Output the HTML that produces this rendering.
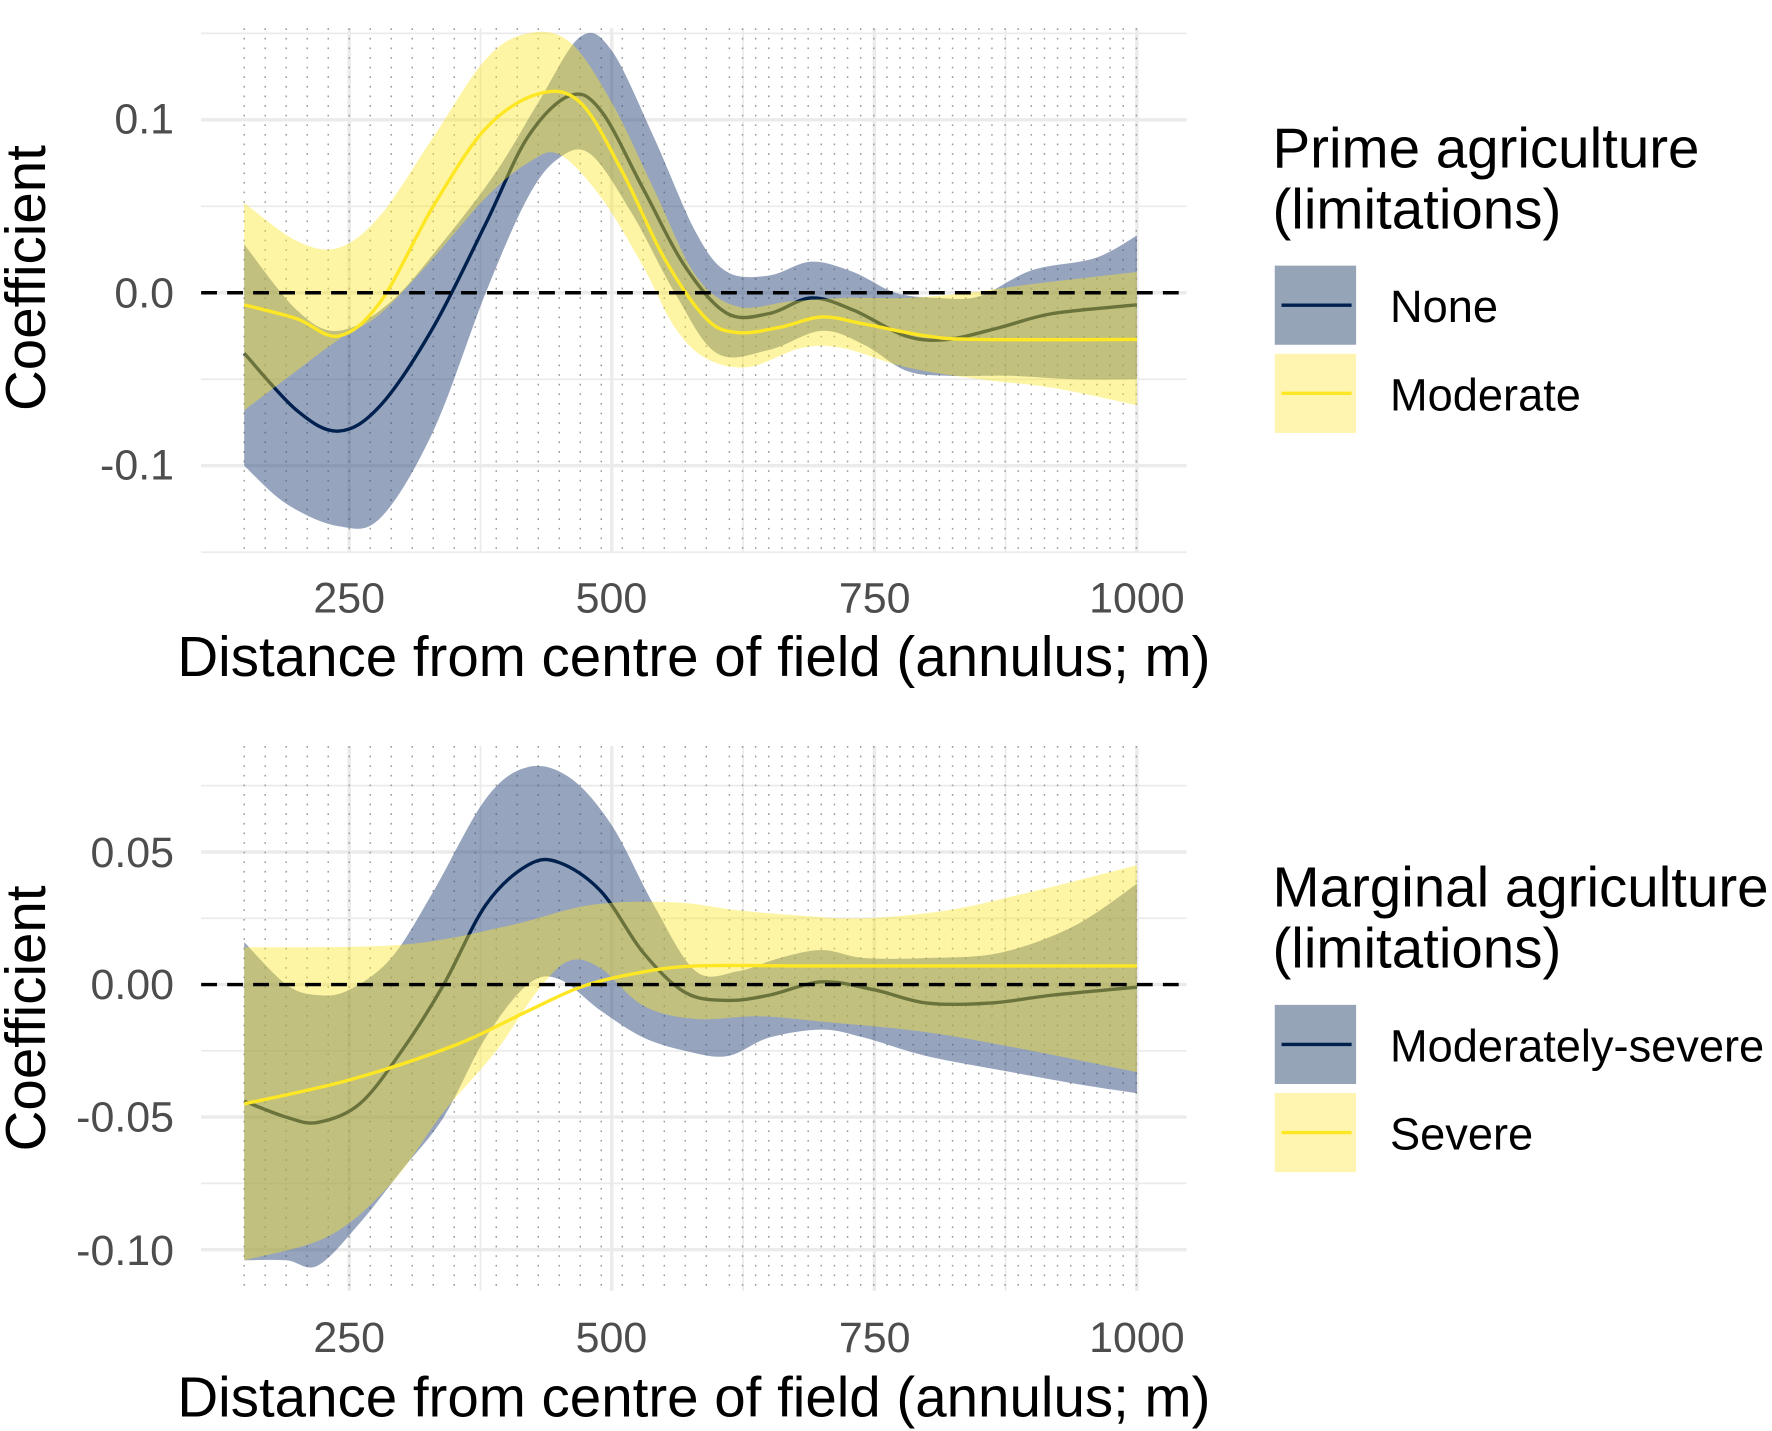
<!DOCTYPE html>
<html><head><meta charset="utf-8"><style>
html,body{margin:0;padding:0;background:#fff;}
svg{display:block;}
text{font-family:"Liberation Sans",Arial,sans-serif;}
</style></head><body>
<svg id="s" width="1772" height="1431" viewBox="0 0 1568 1266" preserveAspectRatio="none" xmlns="http://www.w3.org/2000/svg">
<g id="g"></g>
<text x="40" y="246" font-size="50" transform="rotate(-90 40 246)" text-anchor="middle" fill="#000">Coefficient</text>
<text x="40" y="901" font-size="50" transform="rotate(-90 40 901)" text-anchor="middle" fill="#000">Coefficient</text>
<g font-size="38" fill="#4d4d4d" text-anchor="end">
<text x="154" y="118">0.1</text><text x="154" y="272">0.0</text><text x="154" y="424">-0.1</text>
<text x="154" y="767">0.05</text><text x="154" y="884">0.00</text><text x="154" y="1001">-0.05</text><text x="154" y="1119">-0.10</text>
</g>
<g font-size="38" fill="#4d4d4d" text-anchor="middle">
<text x="309" y="542">250</text><text x="541" y="542">500</text><text x="774" y="542">750</text><text x="1006" y="542">1000</text>
<text x="309" y="1196">250</text><text x="541" y="1196">500</text><text x="774" y="1196">750</text><text x="1006" y="1196">1000</text>
</g>
<g font-size="50" fill="#000" text-anchor="middle">
<text x="614" y="598">Distance from centre of field (annulus; m)</text>
<text x="614" y="1253">Distance from centre of field (annulus; m)</text>
</g>
<g font-size="50" fill="#000">
<text x="1126" y="148">Prime agriculture</text><text x="1126" y="202">(limitations)</text>
<text x="1126" y="802">Marginal agriculture</text><text x="1126" y="856">(limitations)</text>
</g>
<g>
<rect x="1128" y="235" width="72" height="70" fill="#96a4b8"/><line x1="1134" x2="1196" y1="270" y2="270" stroke="#00204d" stroke-width="3"/>
<rect x="1128" y="313" width="72" height="70" fill="#fff5b0"/><line x1="1134" x2="1196" y1="348" y2="348" stroke="#fde725" stroke-width="3"/>
<rect x="1128" y="889" width="72" height="70" fill="#96a4b8"/><line x1="1134" x2="1196" y1="924" y2="924" stroke="#00204d" stroke-width="3"/>
<rect x="1128" y="967" width="72" height="70" fill="#fff5b0"/><line x1="1134" x2="1196" y1="1002" y2="1002" stroke="#fde725" stroke-width="3"/>
</g>
<g font-size="40" fill="#000">
<text x="1230" y="285">None</text><text x="1230" y="363">Moderate</text>
<text x="1230" y="939">Moderately-severe</text><text x="1230" y="1017">Severe</text>
</g>
</svg>
<script>
const g=document.getElementById('g');
let out='';
const X=v=>76.7+v*0.9293;
function panel(top,bot,Y,majH,minH,zeroY,series){
  minH.forEach(v=>out+=`<line x1="178" x2="1050" y1="${Y(v)}" y2="${Y(v)}" stroke="#ebebeb" stroke-width="1.5"/>`);
  majH.forEach(v=>out+=`<line x1="178" x2="1050" y1="${Y(v)}" y2="${Y(v)}" stroke="#ebebeb" stroke-width="3"/>`);
  [375,625,875].forEach(v=>out+=`<line x1="${X(v)}" x2="${X(v)}" y1="${top}" y2="${bot}" stroke="#ebebeb" stroke-width="1.5"/>`);
  [250,500,750,1000].forEach(v=>out+=`<line x1="${X(v)}" x2="${X(v)}" y1="${top}" y2="${bot}" stroke="#ebebeb" stroke-width="3"/>`);
  let xs=[];for(let v=150;v<=600;v+=20)xs.push(v);for(let v=612;v<=1000;v+=12.5)xs.push(v);
  xs.forEach(v=>out+=`<line x1="${X(v)}" x2="${X(v)}" y1="${top}" y2="${bot}" stroke="#9a9a9a" stroke-width="1.3" stroke-dasharray="1.5 7"/>`);
  series.forEach(s=>{
    const up=smooth(s.u.map(p=>[X(p[0]),Y(p[1])]));
    const lo=smooth(s.l.map(p=>[X(p[0]),Y(p[1])]).reverse());
    out+=`<path d="${up}${lo.replace('M','L')}Z" fill="${s.f}" fill-opacity="${s.o}"/>`;
    out+=`<path d="${smooth(s.m.map(p=>[X(p[0]),Y(p[1])]))}" fill="none" stroke="${s.c}" stroke-width="3"/>`;
  });
  out+=`<line x1="178" x2="1050" y1="${zeroY}" y2="${zeroY}" stroke="#000" stroke-width="3" stroke-dasharray="14 9"/>`;
}
function smooth(p){
  let d=`M${p[0][0]},${p[0][1]}`;
  for(let i=0;i<p.length-1;i++){
    const p0=p[i-1]||p[i],p1=p[i],p2=p[i+1],p3=p[i+2]||p2;
    const c1=[p1[0]+(p2[0]-p0[0])/6,p1[1]+(p2[1]-p0[1])/6];
    const c2=[p2[0]-(p3[0]-p1[0])/6,p2[1]-(p3[1]-p1[1])/6];
    d+=`C${c1[0]},${c1[1]} ${c2[0]},${c2[1]} ${p2[0]},${p2[1]}`;
  }
  return d;
}
const P=a=>{let r=[];for(let i=0;i<a.length;i+=2)r.push([a[i],a[i+1]]);return r;};
const Y1=v=>259-v*1530;
panel(25,488,Y1,[0.1,0,-0.1],[0.05,-0.05,-0.15,0.15],259,[
 {f:'#2d4a7d',o:0.5,c:'#00204d',
  m:P([150,-0.035,200,-0.068,240,-0.08,280,-0.065,330,-0.02,380,0.04,420,0.09,460,0.114,490,0.105,530,0.06,570,0.015,610,-0.012,650,-0.012,690,-0.003,730,-0.01,780,-0.025,820,-0.027,870,-0.02,920,-0.012,1000,-0.007]),
  u:P([150,0.028,200,-0.01,240,-0.022,290,-0.005,340,0.03,390,0.07,430,0.11,470,0.148,500,0.14,540,0.09,580,0.035,610,0.012,650,0.01,690,0.018,730,0.012,770,0.0,810,-0.003,850,-0.002,900,0.013,960,0.02,1000,0.033]),
  l:P([150,-0.1,190,-0.122,240,-0.135,280,-0.13,330,-0.08,380,0.0,420,0.055,450,0.078,480,0.08,520,0.045,560,0.0,600,-0.035,650,-0.033,700,-0.022,740,-0.03,780,-0.045,820,-0.048,880,-0.048,940,-0.05,1000,-0.05])},
 {f:'#fde725',o:0.42,c:'#fde725',
  m:P([150,-0.007,200,-0.015,240,-0.025,280,-0.005,330,0.05,380,0.095,430,0.115,470,0.11,510,0.07,550,0.02,590,-0.015,620,-0.023,660,-0.02,700,-0.014,740,-0.018,800,-0.025,850,-0.027,1000,-0.027]),
  u:P([150,0.052,200,0.03,240,0.026,280,0.045,330,0.09,380,0.135,420,0.15,460,0.145,500,0.11,540,0.06,580,0.01,620,-0.008,670,-0.005,720,-0.003,780,-0.003,840,0.0,900,0.005,1000,0.012]),
  l:P([150,-0.068,200,-0.045,240,-0.027,280,-0.012,330,0.02,380,0.055,420,0.075,450,0.08,490,0.055,530,0.015,560,-0.02,590,-0.038,630,-0.043,680,-0.032,720,-0.032,780,-0.043,850,-0.05,920,-0.055,1000,-0.065])}
]);
const Y2=v=>871-v*2346;
panel(660,1142,Y2,[0.05,0,-0.05,-0.1],[0.075,0.025,-0.025,-0.075],871,[
 {f:'#2d4a7d',o:0.5,c:'#00204d',
  m:P([150,-0.044,190,-0.05,220,-0.052,260,-0.045,300,-0.025,340,0.0,380,0.03,420,0.045,450,0.046,490,0.035,530,0.012,570,-0.003,610,-0.006,650,-0.004,700,0.001,750,-0.002,800,-0.007,860,-0.007,920,-0.004,1000,-0.001]),
  u:P([150,0.016,190,0.0,220,-0.004,250,-0.002,290,0.01,330,0.035,380,0.07,420,0.082,460,0.078,500,0.06,540,0.03,580,0.005,620,0.005,660,0.01,700,0.013,740,0.01,800,0.01,870,0.012,940,0.022,1000,0.038]),
  l:P([150,-0.104,190,-0.104,220,-0.106,260,-0.09,300,-0.07,340,-0.05,380,-0.02,420,0.0,450,0.002,490,-0.01,530,-0.02,570,-0.025,610,-0.027,650,-0.02,700,-0.017,740,-0.02,800,-0.027,880,-0.033,950,-0.038,1000,-0.041])},
 {f:'#fde725',o:0.42,c:'#fde725',
  m:P([150,-0.045,250,-0.036,350,-0.023,420,-0.01,470,-0.001,520,0.004,580,0.007,700,0.007,1000,0.007]),
  u:P([150,0.014,300,0.015,400,0.022,480,0.03,560,0.031,620,0.028,680,0.026,740,0.025,820,0.028,900,0.035,1000,0.045]),
  l:P([150,-0.104,230,-0.095,290,-0.075,340,-0.048,390,-0.025,430,-0.002,460,0.009,490,0.006,530,-0.008,580,-0.013,640,-0.012,700,-0.014,800,-0.018,900,-0.025,1000,-0.033])}
]);
g.innerHTML=out;
</script>
</body></html>
